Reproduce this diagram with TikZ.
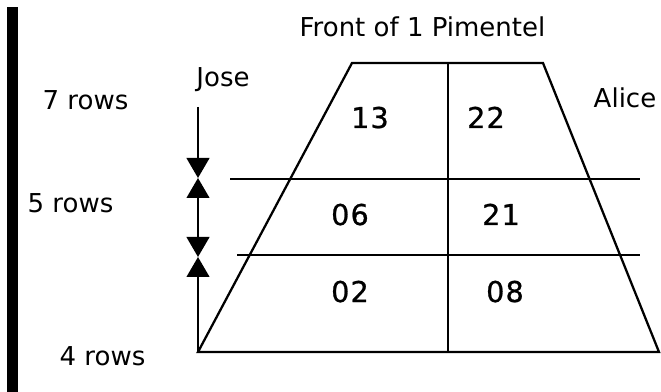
\documentclass[tikz,border=0pt]{standalone}
\usepackage{fontspec}
\setmainfont{DejaVu Sans}
\newfontfamily\numfont[FakeBold=0.8,LetterSpace=4]{DejaVu Sans}
\usetikzlibrary{arrows.meta}
\tikzset{
  ln/.style={line width=1.7pt},
  lbl/.style={anchor=base, inner sep=0pt, font=\fontsize{19.5pt}{22pt}\selectfont},
  num/.style={anchor=base, inner sep=0pt, font=\numfont\fontsize{21.5pt}{24pt}\selectfont},
  tip/.tip={Triangle[width=17pt,length=15pt]},
  tri/.style={-tip, line width=1.7pt},
  dtri/.style={tip-tip, line width=1.7pt}
}
\begin{document}
\begin{tikzpicture}[x=0.75pt,y=-0.75pt]
\useasboundingbox (0,0) rectangle (661,392);
% thick bar
\fill (7,7) rectangle (18,392);
% trapezoid corners
\coordinate (TL) at (352,63);
\coordinate (TR) at (543,63);
\coordinate (BL) at (198,352);
\coordinate (BR) at (659,352);
\coordinate (MT) at (448,63);
\coordinate (MB) at (448,352);
\draw[ln, line join=miter] (BL) -- (TL) -- (TR) -- (BR) -- cycle;
\draw[ln] (MT) -- (MB);
% row lines
\coordinate (H1a) at (230,179);
\coordinate (H1b) at (640,179);
\coordinate (H2a) at (237,255);
\coordinate (H2b) at (640,255);
\draw[ln] (H1a) -- (H1b);
\draw[ln] (H2a) -- (H2b);
% arrows
\coordinate (A0) at (198,107);
\coordinate (A1) at (198,178);
\coordinate (A2) at (198,257);
\draw[tri] (A0) -- (A1);
\draw[dtri] (A1) -- (A2);
\draw[tri] (BL) -- (A2);
% labels
\node[lbl] (front) at (422.5,37) {Front of 1 Pimentel};
\node[lbl] (jose) at (223,87) {Jose};
\node[lbl] (alice) at (625,108) {Alice};
\node[lbl] (r7) at (85.5,110) {7 rows};
\node[lbl] (r5) at (70.5,213) {5 rows};
\node[lbl] (r4) at (102.5,365) {4 rows};
% numbers
\node[num] (n13) at (370,128) {13};
\node[num] (n22) at (486,128) {22};
\node[num] (n06) at (350,225) {06};
\node[num] (n21) at (501,225) {21};
\node[num] (n02) at (350,302) {02};
\node[num] (n08) at (505,302) {08};
\end{tikzpicture}
\end{document}
